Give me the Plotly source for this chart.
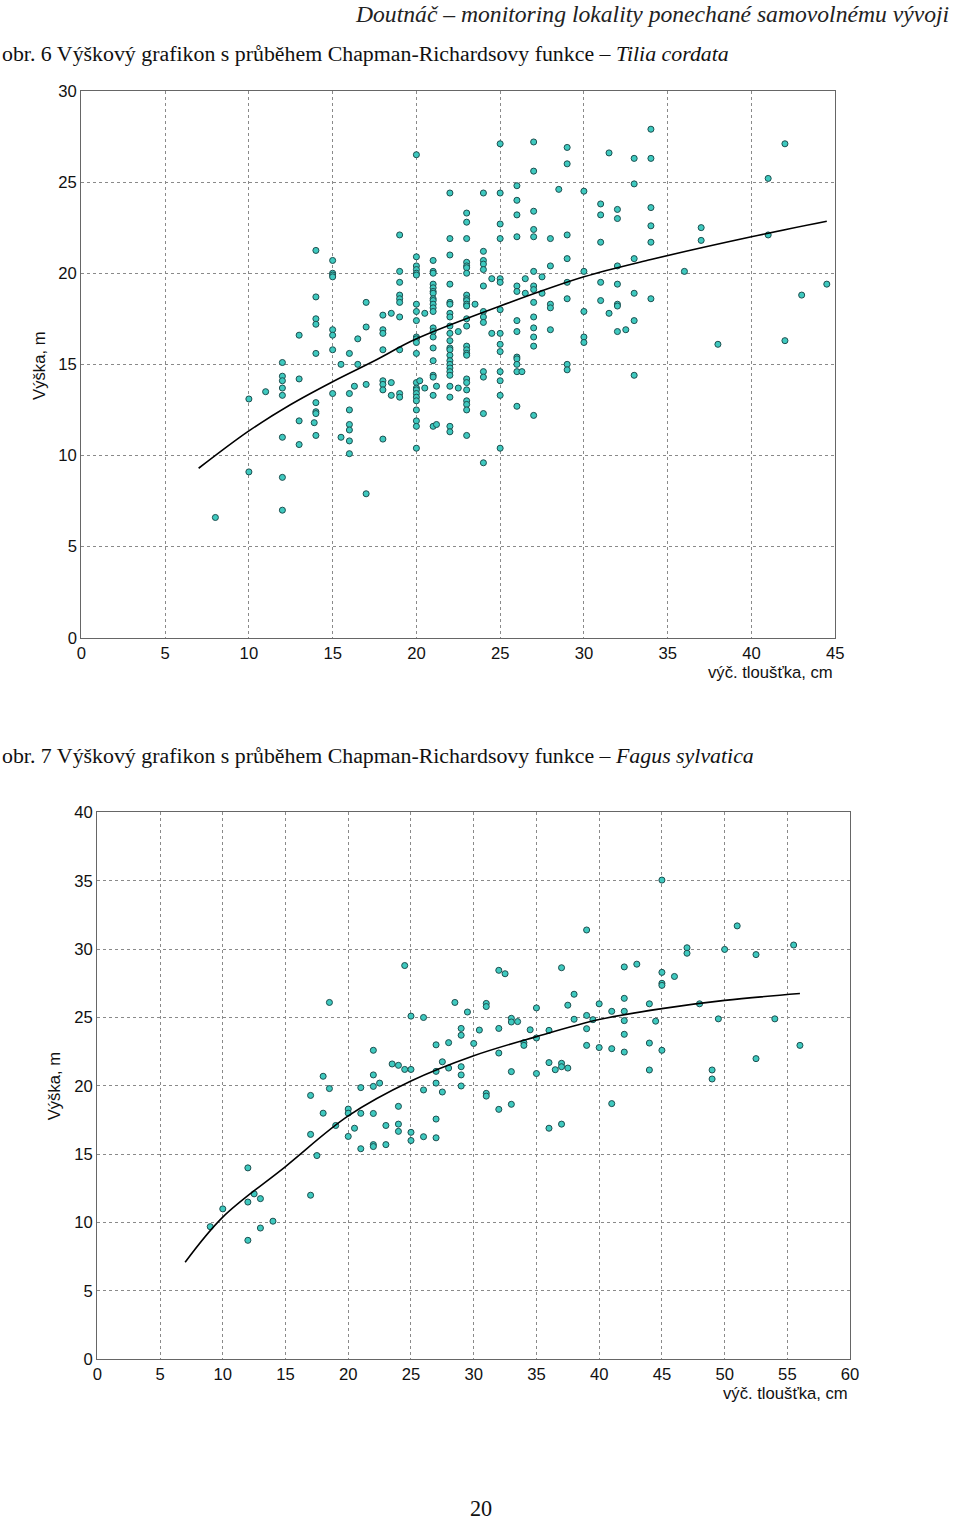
import plotly.graph_objects as go

W, H = 960, 1524

# ---------------- Data: Tilia cordata (obr. 6) ----------------
tilia_d = (
    [8] + [10]*2 + [11] + [12]*8 + [13]*4 + [14]*9 + [13.9] + [15]*8 + [15.5]*2 + [16]*7 + [16.3] + [16.5]*2
    + [17]*4 + [18]*8 + [18.5]*3 + [19]*10 + [20]*23 + [20.2] + [20.5]*2 + [21]*21 + [21.2]*2
    + [22]*23 + [22.5]*2 + [23]*25 + [23.5] + [24]*13 + [24.5]*2 + [25]*14 + [26]*13 + [26.3] + [26.5]*2
    + [27]*14 + [27.5]*2 + [28]*5 + [28.5] + [29]*8 + [30]*5 + [31]*5 + [31.5]*2 + [32]*7 + [32.5]
    + [33]*6 + [34]*6 + [36] + [37]*2 + [38] + [41]*2 + [42]*2 + [43] + [44.5]
)
tilia_h = [
    6.6,
    13.1, 9.1,
    13.5,
    15.1, 14.35, 14.1, 13.7, 13.3, 11.0, 8.8, 7.0,
    16.6, 14.2, 11.9, 10.6,
    21.25, 18.7, 17.5, 17.2, 15.6, 12.9, 12.4, 12.3, 11.1,
    11.8,
    20.7, 20.0, 19.9, 19.8, 16.9, 16.6, 15.8, 13.4,
    15.0, 11.0,
    15.6, 13.4, 12.5, 11.7, 11.4, 10.8, 10.1,
    13.8,
    16.4, 15.0,
    18.4, 17.05, 13.9, 7.9,
    17.7, 16.9, 16.7, 15.8, 14.1, 13.9, 13.6, 10.9,
    17.8, 14.0, 13.3,
    22.1, 20.1, 19.5, 18.8, 18.6, 18.4, 17.6, 15.8, 13.4, 13.2,
    26.5, 20.9, 20.4, 20.2, 20.0, 19.9, 18.3, 17.9, 17.4, 16.5, 16.4, 16.2, 15.6, 14.0, 13.7, 13.6,
    13.4, 13.2, 13.0, 12.5, 11.9, 11.6, 10.4,
    14.1,
    17.8, 13.7,
    20.7, 20.1, 20.0, 19.4, 19.2, 19.0, 18.9, 18.6, 18.5, 18.3, 18.1, 17.9, 17.0, 16.8, 16.5, 15.9,
    15.2, 14.4, 14.3, 13.3, 11.6,
    13.8, 11.7,
    24.4, 21.9, 21.0, 19.4, 18.4, 18.3, 17.8, 17.6, 17.1, 16.7, 16.3, 15.9, 15.8, 15.5, 15.2, 15.0,
    14.8, 14.6, 14.4, 13.8, 13.2, 11.6, 11.3,
    16.8, 13.7,
    23.3, 22.8, 21.9, 20.6, 20.4, 20.3, 20.0, 18.8, 18.6, 18.5, 18.3, 18.2, 17.5, 17.1, 16.0, 15.8,
    15.6, 15.5, 14.2, 14.0, 13.6, 13.0, 12.8, 12.5, 11.1,
    18.3,
    24.4, 21.2, 20.7, 20.5, 20.2, 19.3, 17.9, 17.6, 17.3, 14.6, 14.3, 12.3, 9.6,
    19.7, 16.7,
    27.1, 24.4, 22.7, 21.9, 19.7, 19.5, 18.0, 16.7, 16.1, 15.7, 14.6, 14.1, 13.3, 10.4,
    24.8, 24.0, 23.2, 22.0, 19.3, 19.0, 17.4, 16.8, 15.4, 15.3, 15.0, 14.6, 12.7,
    14.6,
    19.7, 18.9,
    27.2, 25.6, 23.4, 22.4, 22.0, 20.1, 19.3, 19.1, 18.4, 17.6, 17.0, 16.5, 16.0, 12.2,
    19.8, 18.9,
    21.9, 20.4, 18.3, 18.1, 16.9,
    24.6,
    26.9, 26.0, 22.1, 20.8, 19.5, 18.6, 15.0, 14.7,
    24.5, 20.1, 17.9, 16.5, 16.2,
    23.8, 23.2, 21.7, 19.5, 18.5,
    26.6, 17.8,
    23.5, 23.0, 20.4, 19.4, 18.3, 18.2, 16.8,
    16.9,
    26.3, 24.9, 20.8, 18.9, 17.4, 14.4,
    27.9, 26.3, 23.6, 22.6, 21.7, 18.6,
    20.1,
    22.5, 21.8,
    16.1,
    25.2, 22.1,
    27.1, 16.3,
    18.8,
    19.4,
]

tilia_curve_d = [7.0, 10, 12.5, 15, 17.5, 20, 25, 30, 34, 40, 44.5]
tilia_curve_h = [9.3, 11.35, 12.8, 14.05, 15.2, 16.4, 18.2, 19.8, 20.75, 22.0, 22.85]

# ---------------- Data: Fagus sylvatica (obr. 7) ----------------
fagus_d = (
    [9] + [10] + [12]*3 + [12.5] + [13]*2 + [14] + [17]*3 + [17.5] + [18]*2 + [18.5]*2 + [19]
    + [20]*3 + [20.5] + [21]*3 + [22]*6 + [22.5] + [23]*2 + [23.5] + [24]*4 + [24.5]*2 + [25]*4
    + [26]*3 + [27]*5 + [27.5]*2 + [28]*2 + [28.5] + [29]*5 + [29.5] + [30] + [30.45] + [31]*4
    + [32]*4 + [32.5] + [33]*4 + [33.5] + [34]*2 + [34.5] + [35]*3 + [36]*3 + [36.5] + [37]*4
    + [37.5]*2 + [38]*2 + [39]*4 + [39.5] + [40]*2 + [41]*3 + [42]*6 + [43] + [44]*3 + [44.5]
    + [45]*5 + [46] + [47]*2 + [48] + [49]*2 + [49.5] + [50] + [51] + [52.5]*2 + [54] + [55.5] + [56]
)
fagus_h = [
    9.7,
    11.0,
    14.0, 11.5, 8.7,
    12.1,
    11.75, 9.6,
    10.1,
    19.3, 16.45, 12.0,
    14.9,
    20.7, 18.0,
    26.1, 19.8,
    17.1,
    18.3, 18.0, 16.3,
    16.9,
    19.87, 17.99, 15.4,
    22.6, 20.8, 19.96, 17.98, 15.7, 15.56,
    20.2,
    17.1, 15.7,
    21.6,
    21.5, 18.5, 17.2, 16.67,
    28.8, 21.2,
    25.1, 21.2, 16.6, 16.0,
    25.0, 19.7, 16.28,
    23.0, 21.06, 20.2, 17.57, 16.2,
    21.76, 19.55,
    23.16, 21.3,
    26.1,
    24.2, 23.7, 21.4, 20.8, 19.99,
    25.4,
    23.1,
    24.08,
    26.03, 25.8, 19.45, 19.25,
    28.45, 24.2, 22.4, 18.28,
    28.2,
    24.94, 24.67, 21.04, 18.65,
    24.7,
    23.16, 22.96,
    24.1,
    25.7, 23.5, 20.9,
    24.06, 21.7, 16.9,
    21.18,
    28.64, 21.65, 21.4, 17.2,
    25.9, 21.3,
    26.7, 24.87,
    31.4, 25.15, 24.18, 22.96,
    24.84,
    26.0, 22.8,
    25.45, 22.72, 18.7,
    28.7, 26.4, 25.45, 24.77, 23.77, 22.47,
    28.9,
    26.0, 23.13, 21.16,
    24.73,
    35.05, 28.3, 27.5, 27.35, 22.6,
    28.0,
    30.1, 29.7,
    26.0,
    21.16, 20.5,
    24.9,
    29.98,
    31.7,
    29.6, 21.99,
    24.9,
    30.3,
    22.96,
]

fagus_curve_d = [7.0, 10, 15, 20, 25, 30, 35, 40, 45, 50, 56]
fagus_curve_h = [7.1, 10.4, 14.1, 17.8, 20.35, 22.2, 23.6, 24.85, 25.65, 26.25, 26.75]

# tick values
tilia_xticks = [0, 5, 10, 15, 20, 25, 30, 35, 40, 45]
tilia_yticks = [0, 5, 10, 15, 20, 25, 30]
fagus_xticks = [0, 5, 10, 15, 20, 25, 30, 35, 40, 45, 50, 55, 60]
fagus_yticks = [0, 5, 10, 15, 20, 25, 30, 35, 40]

# ---------------- Layout helpers ----------------
# Positions below are given in the coordinates of the final 960x1524 picture.
# The page ends up slightly scaled/offset in the photograph, so map them back.
S = 0.9896
AX, AY = 2.3, 7.9


def px(r):
    return ((r - AX) / S) / W


def py(r):
    return 1 - ((r - AY) / S) / H


def fs(v):
    return v / S


marker = dict(size=fs(6), color="#3ec9bf", line=dict(color="#1d4f4f", width=1))

fig = go.Figure()
fig.add_trace(go.Scatter(x=tilia_d, y=tilia_h, mode="markers", marker=marker,
                         xaxis="x", yaxis="y", showlegend=False))
fig.add_trace(go.Scatter(x=tilia_curve_d, y=tilia_curve_h, mode="lines",
                         line=dict(color="black", width=1.6, shape="spline"),
                         xaxis="x", yaxis="y", showlegend=False))
fig.add_trace(go.Scatter(x=fagus_d, y=fagus_h, mode="markers", marker=marker,
                         xaxis="x2", yaxis="y2", showlegend=False))
fig.add_trace(go.Scatter(x=fagus_curve_d, y=fagus_curve_h, mode="lines",
                         line=dict(color="black", width=1.6, shape="spline"),
                         xaxis="x2", yaxis="y2", showlegend=False))

tickfont = dict(family="Liberation Sans, Arial", size=fs(16.5), color="#111")
common = dict(showgrid=True, gridcolor="#8a8a8a", griddash="dot", gridwidth=1,
              zeroline=False, showline=True, linecolor="#666", linewidth=1.3, mirror=True,
              ticks="", tickfont=tickfont, fixedrange=True)

fig.update_layout(
    width=W, height=H,
    margin=dict(l=0, r=0, t=0, b=0),
    paper_bgcolor="white", plot_bgcolor="white",
    xaxis=dict(domain=[px(79), px(836)], range=[0, 45], tickvals=tilia_xticks,
               anchor="y", **common),
    yaxis=dict(domain=[py(638), py(90)], range=[0, 30], tickvals=tilia_yticks,
               anchor="x", **common),
    xaxis2=dict(domain=[px(95), px(851)], range=[0, 60], tickvals=fagus_xticks,
                anchor="y2", **common),
    yaxis2=dict(domain=[py(1361), py(813)], range=[0, 40], tickvals=fagus_yticks,
                anchor="x2", **common),
)

serif = "Liberation Serif, Times New Roman"
sans = "Liberation Sans, Arial"
ann = [
    dict(x=0.9995, y=py(13), text="<i>Doutnáč – monitoring lokality ponechané samovolnému vývoji</i>",
         xanchor="right", yanchor="middle", font=dict(family=serif, size=fs(23.4), color="#222")),
    dict(x=px(-2.5), y=py(53), text="obr. 6 Výškový grafikon s průběhem Chapman-Richardsovy funkce – <i>Tilia cordata</i>",
         xanchor="left", yanchor="middle", font=dict(family=serif, size=fs(21.65), color="#111")),
    dict(x=px(-2.5), y=py(756), text="obr. 7 Výškový grafikon s průběhem Chapman-Richardsovy funkce – <i>Fagus sylvatica</i>",
         xanchor="left", yanchor="middle", font=dict(family=serif, size=fs(21.65), color="#111")),
    dict(x=px(37), y=py(365), text="Výška, m", textangle=-90,
         xanchor="center", yanchor="middle", font=dict(family=sans, size=fs(16.5), color="#111")),
    dict(x=px(835.5), y=py(673), text="výč. tloušťka, cm",
         xanchor="right", yanchor="middle", font=dict(family=sans, size=fs(16.5), color="#111")),
    dict(x=px(52), y=py(1087), text="Výška, m", textangle=-90,
         xanchor="center", yanchor="middle", font=dict(family=sans, size=fs(16.5), color="#111")),
    dict(x=px(850.5), y=py(1395), text="výč. tloušťka, cm",
         xanchor="right", yanchor="middle", font=dict(family=sans, size=fs(16.5), color="#111")),
    dict(x=px(480), y=py(1511), text="20",
         xanchor="center", yanchor="middle", font=dict(family=serif, size=fs(22), color="#111")),
]
for a in ann:
    a.update(xref="paper", yref="paper", showarrow=False)
fig.update_layout(annotations=ann)

fig.write_html("out.html")
